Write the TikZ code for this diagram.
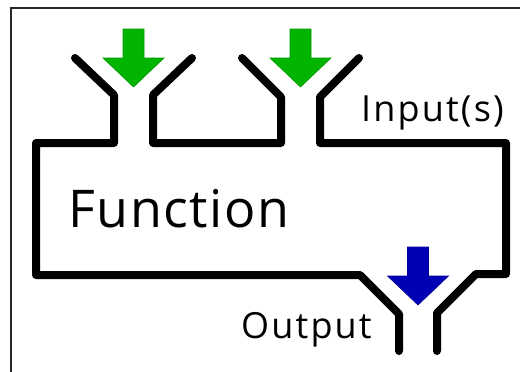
\documentclass[tikz,border=0pt]{standalone}
\usepackage{fontspec}
\setmainfont{Open Sans}
\usepackage{tikz}
\usetikzlibrary{positioning,calc}
\definecolor{InGreen}{HTML}{00B400}
\definecolor{OutBlue}{HTML}{0000B4}

\begin{document}
\begin{tikzpicture}[
  x=1pt, y=-1pt,
  wall/.style={draw=black, line width=8pt, line cap=round, line join=round},
  frameline/.style={draw=black!85, line width=2.6pt},
  caption/.style={anchor=base west, inner sep=0pt,
    font=\addfontfeature{LetterSpace=6}\fontsize{36}{36}\selectfont},
  flow/.style={line width=0.6pt, line join=miter}
]
  \useasboundingbox (0,0) rectangle (520,372);
  % frame edges
  \draw[frameline] (11,372) -- (11,8) -- (520,8);

  % funnel outline
  \draw[wall] (75,58) -- (114,95) -- (114,143) -- (36,143) -- (36,275)
    -- (360,275) -- (399,314) -- (399,351);
  \draw[wall] (192,58) -- (153,95) -- (153,143) -- (281,143) -- (281,97) -- (242,58);
  \draw[wall] (437,351) -- (437,313) -- (476,274) -- (506,274) -- (506,143)
    -- (320,143) -- (320,97) -- (359,58);

  % flow arrows
  \foreach \cx/\ty/\col in {133.5/29/InGreen, 300.5/29/InGreen, 418/247/OutBlue}{
    \filldraw[flow, fill=\col, draw=\col!85!black]
      (\cx-10.5,\ty) -- (\cx+10.5,\ty) -- (\cx+10.5,\ty+29) -- (\cx+30.5,\ty+29)
      -- (\cx,\ty+58) -- (\cx-30.5,\ty+29) -- (\cx-10.5,\ty+29) -- cycle;
  }

  % labels
  \node[caption, font=\addfontfeature{LetterSpace=3}\fontsize{52}{52}\selectfont]
    (function) at (68,227) {Function};
  \node[caption] (inputs) at (361,121) {Input(s)};
  \node[caption] (output) at (241,338) {Output};
\end{tikzpicture}
\end{document}
